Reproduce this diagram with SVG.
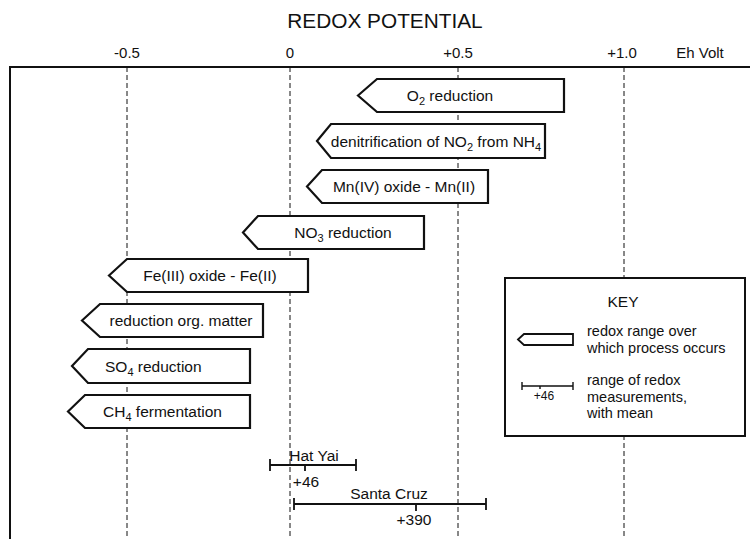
<svg xmlns="http://www.w3.org/2000/svg" width="750" height="539" viewBox="0 0 750 539">
<style>
text{font-family:"Liberation Sans",Arial,sans-serif;fill:#111;}
.t{font-size:15.5px;}
.k{font-size:14.5px;}
.ax{font-size:15px;text-anchor:middle;}
.sub{font-size:11px;}
.arrow{fill:#fff;stroke:#111;stroke-width:2.2;stroke-linejoin:miter;}
.grid{stroke:#111;stroke-width:1;stroke-dasharray:5 3;fill:none;}
.frame{stroke:#111;stroke-width:2;fill:none;}
.bar{stroke:#111;stroke-width:1.8;fill:none;}
</style>
<rect width="750" height="539" fill="#fff"/>
<g id="axis">
<text x="385" y="28" style="font-size:20.8px;text-anchor:middle">REDOX POTENTIAL</text>
<text class="ax" x="127" y="58">-0.5</text>
<text class="ax" x="290" y="58">0</text>
<text class="ax" x="458" y="58">+0.5</text>
<text class="ax" x="622" y="58">+1.0</text>
<text class="ax" x="700" y="58">Eh Volt</text>
<g id="gridlines">
<line class="grid" x1="127" y1="67" x2="127" y2="539"/>
<line class="grid" x1="290" y1="67" x2="290" y2="539"/>
<line class="grid" x1="458" y1="67" x2="458" y2="539"/>
<line class="grid" x1="624" y1="67" x2="624" y2="539"/>
</g>
<path class="frame" d="M10,539 V67 H750"/>
</g>
<g id="o2">
<polygon class="arrow" points="358,95.5 377,79 564,79 564,112 377,112"/>
<text class="t" x="450" y="101" text-anchor="middle">O<tspan class="sub" dy="4">2</tspan><tspan dy="-4"> reduction</tspan></text>
</g>
<g id="denitrification">
<polygon class="arrow" points="317,141 331,124 545,124 545,158 331,158"/>
<text class="t" x="436" y="146.5" text-anchor="middle">denitrification of NO<tspan class="sub" dy="4">2</tspan><tspan dy="-4"> from NH</tspan><tspan class="sub" dy="4">4</tspan></text>
</g>
<g id="mn">
<polygon class="arrow" points="307,186.5 322,170 488,170 488,203 322,203"/>
<text class="t" x="404" y="192" text-anchor="middle">Mn(IV) oxide - Mn(II)</text>
</g>
<g id="no3">
<polygon class="arrow" points="243,232.5 258,216 424,216 424,249 258,249"/>
<text class="t" x="343" y="238" text-anchor="middle">NO<tspan class="sub" dy="4">3</tspan><tspan dy="-4"> reduction</tspan></text>
</g>
<g id="fe">
<polygon class="arrow" points="109,275.5 127,259 308,259 308,292 127,292"/>
<text class="t" x="210" y="281" text-anchor="middle">Fe(III) oxide - Fe(II)</text>
</g>
<g id="org">
<polygon class="arrow" points="82,320.5 100,304 263,304 263,337 100,337"/>
<text class="t" x="181" y="326" text-anchor="middle">reduction org. matter</text>
</g>
<g id="so4">
<polygon class="arrow" points="72,366 88,349 250,349 250,383 88,383"/>
<text class="t" x="105" y="371.5">SO<tspan class="sub" dy="4">4</tspan><tspan dy="-4"> reduction</tspan></text>
</g>
<g id="ch4">
<polygon class="arrow" points="68,411.5 85,395 250,395 250,428 85,428"/>
<text class="t" x="103" y="417">CH<tspan class="sub" dy="4">4</tspan><tspan dy="-4"> fermentation</tspan></text>
</g>
<g id="key">
<rect x="505" y="278" width="240" height="158" fill="#fff" stroke="#111" stroke-width="2"/>
<text class="t" x="623" y="307" text-anchor="middle">KEY</text>
<polygon class="arrow" style="stroke-width:1.8" points="518,339.5 524,334 573,334 573,345 524,345"/>
<text class="k" x="587" y="336">redox range over</text>
<text class="k" x="587" y="353">which process occurs</text>
<path class="bar" style="stroke-width:1.4" d="M522,386 H573 M522,382 V390 M573,382 V390 M540,386 V389"/>
<text x="544" y="400" style="font-size:12px;text-anchor:middle">+46</text>
<text class="k" x="587" y="385">range of redox</text>
<text class="k" x="587" y="401.5">measurements,</text>
<text class="k" x="587" y="418">with mean</text>
</g>
<g id="hatyai">
<path class="bar" d="M270,465 H356 M270,459 V471 M356,459 V471 M305,465 V471"/>
<text class="t" x="314" y="461" text-anchor="middle">Hat Yai</text>
<text class="t" x="306" y="487" text-anchor="middle">+46</text>
</g>
<g id="santacruz">
<path class="bar" d="M294,504 H486 M294,498 V510 M486,498 V510 M416,504 V511"/>
<text class="t" x="389" y="499" text-anchor="middle">Santa Cruz</text>
<text class="t" x="414" y="525" text-anchor="middle">+390</text>
</g>
<g id="connectors"></g>
</svg>
